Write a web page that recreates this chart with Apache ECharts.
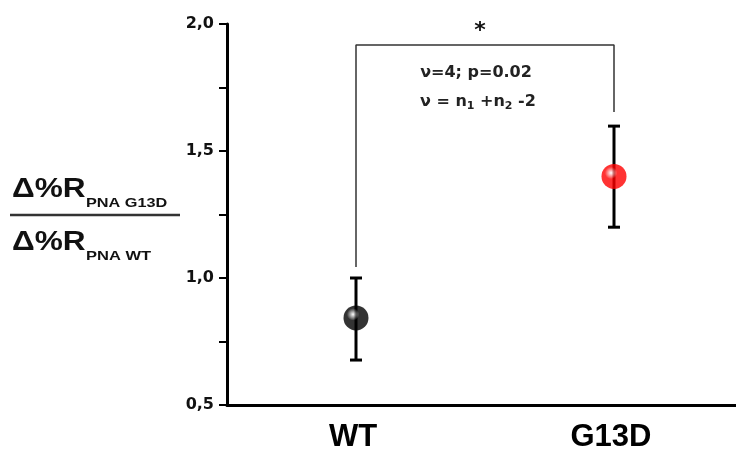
<!DOCTYPE html>
<html><head><meta charset="utf-8">
<script src="https://cdn.jsdelivr.net/npm/echarts@6/dist/echarts.min.js"></script>
<style>html,body{margin:0;padding:0;background:#fff}#c{width:736px;height:452px}</style>
</head><body><div id="c"></div>
<script>
const categories = ['WT', 'G13D'];
const means = [0.843, 1.40];
const errLow = [0.677, 1.20];
const errHigh = [1.00, 1.598];
const pointColors = ['#000000', '#ff0000'];
const yTicks = [0.5, 1.0, 1.5, 2.0];
const bracketY = 1.917;
const bracketLeftBottom = 1.043;
const bracketRightBottom = 1.654;

const chart = echarts.init(document.getElementById('c'));
const font = '"DejaVu Sans", "Liberation Sans", Arial, sans-serif';
const arial = '"Liberation Sans", Arial, sans-serif';

function sphere(c) {
  return {
    type: 'radial', x: 0.38, y: 0.36, r: 0.7,
    colorStops: [{offset: 0, color: '#ffffff'}, {offset: 0.35, color: c}, {offset: 1, color: c}]
  };
}

chart.setOption({
  animation: false,
  grid: {left: 227, width: 516, top: 24, bottom: 47, containLabel: false, outerBoundsMode: 'none'},
  xAxis: {
    type: 'category', data: categories, boundaryGap: true,
    axisLine: {lineStyle: {color: '#000', width: 3}},
    axisTick: {show: false},
    axisLabel: {color: '#000', fontSize: 31, fontWeight: 'bold', fontFamily: arial, margin: 17, padding: [0, 6, 0, 0]},
    splitLine: {show: false}
  },
  yAxis: {
    type: 'value', min: 0.5, max: 2.0, interval: 0.25,
    axisLine: {show: true, lineStyle: {color: '#000', width: 3}},
    axisTick: {show: true, length: 8, lineStyle: {color: '#000', width: 2}},
    axisLabel: {
      color: '#111', fontSize: 16, fontWeight: 'bold', fontFamily: font, margin: 13,
      formatter: v => yTicks.some(t => Math.abs(t - v) < 1e-6) ? v.toFixed(1).replace('.', ',') : ''
    },
    splitLine: {show: false}
  },
  series: [
    {
      type: 'line',
      data: [[0, bracketLeftBottom], [0, bracketY], [1, bracketY], [1, bracketRightBottom]],
      symbol: 'none',
      lineStyle: {color: '#333', width: 1.5},
      silent: true, z: 1
    },
    {
      type: 'custom',
      data: categories.map((c, i) => [i, errLow[i], errHigh[i]]),
      renderItem: function (params, api) {
        const x = api.value(0);
        const lo = api.coord([x, api.value(1)]);
        const hi = api.coord([x, api.value(2)]);
        const hw = 6;
        const st = {stroke: '#000', lineWidth: 3};
        return {type: 'group', children: [
          {type: 'line', shape: {x1: lo[0], y1: lo[1], x2: hi[0], y2: hi[1]}, style: st},
          {type: 'line', shape: {x1: lo[0] - hw, y1: lo[1], x2: lo[0] + hw, y2: lo[1]}, style: st},
          {type: 'line', shape: {x1: hi[0] - hw, y1: hi[1], x2: hi[0] + hw, y2: hi[1]}, style: st}
        ]};
      },
      z: 2
    },
    {
      type: 'scatter',
      data: categories.map((c, i) => ({value: [i, means[i]], itemStyle: {color: sphere(pointColors[i])}})),
      symbolSize: 25,
      z: 3
    }
  ],
  graphic: [
    {type: 'text', x: 480, y: 31, style: {text: '*', font: 'bold 22px ' + font, fill: '#111', align: 'center', verticalAlign: 'middle'}},
    {type: 'text', x: 476, y: 73, style: {text: 'ν=4; p=0.02', font: 'bold 16px ' + font, fill: '#222', align: 'center', verticalAlign: 'middle'}},
    {type: 'text', x: 420, y: 102, style: {
      text: '{m|ν = n}{s|1}{m| +n}{s|2}{m| -2}', verticalAlign: 'middle',
      rich: {
        m: {font: 'bold 16px ' + font, fill: '#222'},
        s: {font: 'bold 11px ' + font, fill: '#222', padding: [8, 0, 0, 0]}
      }
    }},
    {type: 'text', x: 12, y: 190, scaleX: 1.17, style: {text: 'Δ%R', font: 'bold 27px ' + arial, fill: '#111', verticalAlign: 'middle'}},
    {type: 'text', x: 86, y: 203, scaleX: 1.25, style: {text: 'PNA G13D', font: 'bold 13px ' + arial, fill: '#111', verticalAlign: 'middle'}},
    {type: 'line', shape: {x1: 10, y1: 215, x2: 180, y2: 215}, style: {stroke: '#333', lineWidth: 2.5}},
    {type: 'text', x: 12, y: 243, scaleX: 1.17, style: {text: 'Δ%R', font: 'bold 27px ' + arial, fill: '#111', verticalAlign: 'middle'}},
    {type: 'text', x: 86, y: 256, scaleX: 1.27, style: {text: 'PNA WT', font: 'bold 13px ' + arial, fill: '#111', verticalAlign: 'middle'}}
  ]
});
</script></body></html>
